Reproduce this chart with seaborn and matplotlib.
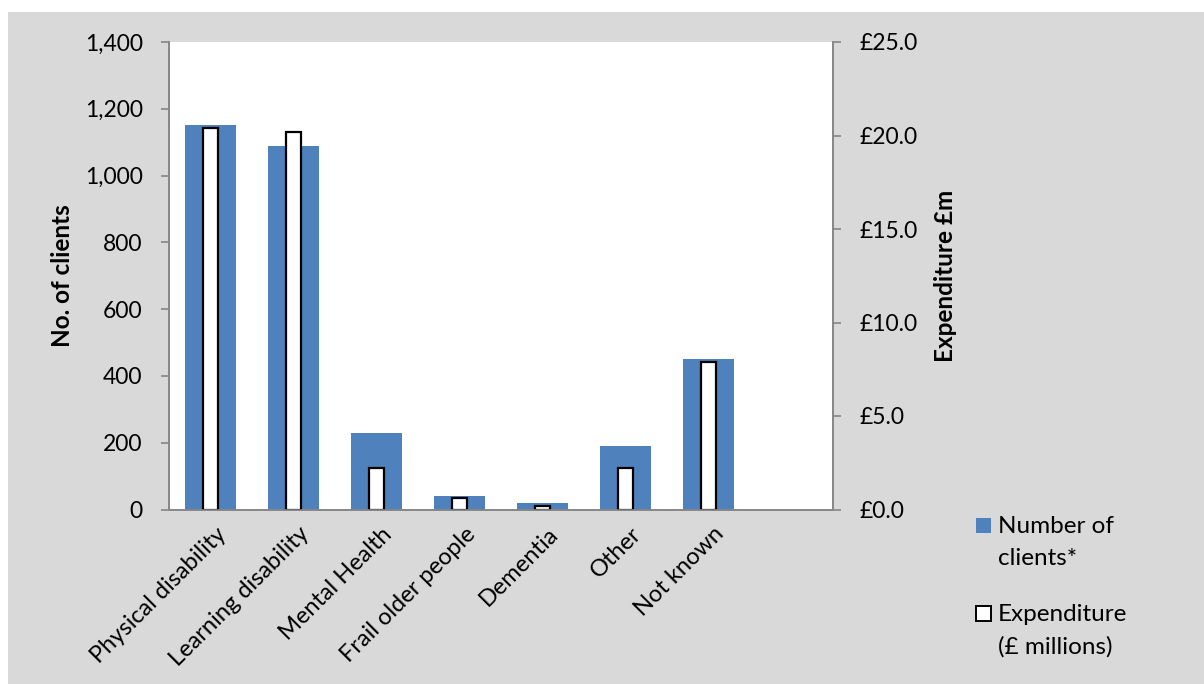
import matplotlib
matplotlib.use("Agg")
import matplotlib.pyplot as plt
import matplotlib.patches as mpatches
from matplotlib.ticker import FuncFormatter, MultipleLocator
from matplotlib.transforms import ScaledTranslation
import seaborn as sns
import pandas as pd

# ---------------------------------------------------------------------------
# Data
# ---------------------------------------------------------------------------
categories = ["Physical disability", "Learning disability", "Mental Health",
              "Frail older people", "Dementia", "Other", "Not known"]
clients = [1150, 1090, 230, 40, 20, 190, 450]
expenditure = [20.4, 20.2, 2.2, 0.6, 0.2, 2.2, 7.9]
legend_labels = ["Number of\nclients*", "Expenditure\n(£ millions)"]

BLUE = "#4f81bd"
GREY_BG = "#d9d9d9"
AXIS_GREY = "#868686"
TEXT = "#000000"
W, H = 1204, 684
FS = 16.5

sns.set_theme(style="white")
plt.rcParams.update({
    "font.family": ["Lato", "DejaVu Sans"],
    "font.size": FS,
    "xtick.labelsize": FS,
    "ytick.labelsize": FS,
    "axes.labelsize": 17.5,
    "text.color": TEXT,
    "axes.labelcolor": TEXT,
    "xtick.color": AXIS_GREY,
    "ytick.color": AXIS_GREY,
    "xtick.labelcolor": TEXT,
    "ytick.labelcolor": TEXT,
})

df = pd.DataFrame({"category": categories, "clients": clients,
                   "expenditure": expenditure})

fig = plt.figure(figsize=(W / 100, H / 100), dpi=100, facecolor="white")
# grey chart area (leaves a thin white strip top/left like the source)
fig.patches.append(mpatches.Rectangle((8 / W, 0), 1 - 8 / W, 1 - 12 / H,
                                      transform=fig.transFigure,
                                      facecolor=GREY_BG, edgecolor="none", zorder=-10))

ax = fig.add_axes([169 / W, 1 - 509.5 / H, (833 - 169) / W, (509.5 - 42) / H])
ax.set_facecolor("white")
ax2 = ax.twinx()

sns.barplot(data=df, x="category", y="clients", ax=ax, color=BLUE,
            width=0.62, saturation=1, edgecolor="none")
sns.barplot(data=df, x="category", y="expenditure", ax=ax2, color="white",
            width=0.17, saturation=1, edgecolor="black", linewidth=1.6)

ax.set_xlim(-0.5, 7.5)
ax.set_ylim(0, 1400)
ax2.set_ylim(0, 25)
ax.yaxis.set_major_locator(MultipleLocator(200))
ax2.yaxis.set_major_locator(MultipleLocator(5))
ax.yaxis.set_major_formatter(FuncFormatter(lambda v, p: f"{v:,.0f}"))
ax2.yaxis.set_major_formatter(FuncFormatter(lambda v, p: f"£{v:.1f}"))

# category labels at centres, tick marks at the boundaries
ax.set_xticks(range(len(categories)))
ax.set_xticklabels(categories, rotation=45, ha="right", rotation_mode="anchor")
ax.set_xticks([i - 0.5 for i in range(9)], minor=True)
ax.tick_params(axis="x", which="major", length=0, pad=10, labelsize=17)
ax.tick_params(axis="x", which="minor", length=6, width=1.2, color=AXIS_GREY)
ax.tick_params(axis="y", length=6, width=1.2, pad=13, labelsize=FS)
ax2.tick_params(axis="y", length=6, width=1.2, pad=13, labelsize=FS)
ax2.tick_params(axis="x", which="both", length=0, labelbottom=False)
shift = ScaledTranslation(5 / 100, 0, fig.dpi_scale_trans)
for lbl in ax.get_xticklabels():
    lbl.set_transform(lbl.get_transform() + shift)

for a in (ax, ax2):
    a.spines["top"].set_visible(False)
    for side in ("left", "right", "bottom"):
        a.spines[side].set_color(AXIS_GREY)
        a.spines[side].set_linewidth(1.2)
    a.grid(False)

ax.set_xlabel("")
ax.set_ylabel("No. of clients", fontweight="bold")
ax2.set_ylabel("Expenditure £m", fontweight="bold")
ax.yaxis.set_label_coords((74 - 169) / 664, 0.5)
ax2.yaxis.set_label_coords((934 - 169) / 664, 0.5)

# legend drawn by hand: square aligned with the first line of each label
legend_styles = [dict(facecolor=BLUE, edgecolor="none"),
                 dict(facecolor="white", edgecolor="black", linewidth=1.4)]
legend_tops = [525, 613]
for label, style, y in zip(legend_labels, legend_styles, legend_tops):
    fig.patches.append(mpatches.Rectangle((976 / W, 1 - (y + 7.5) / H), 15 / W, 15 / H,
                                          transform=fig.transFigure, zorder=5, **style))
    fig.text(998 / W, 1 - (y - 9) / H, label, ha="left", va="top",
             fontsize=17.5, linespacing=1.62)

fig.savefig("out.png", dpi=100, facecolor="white")
